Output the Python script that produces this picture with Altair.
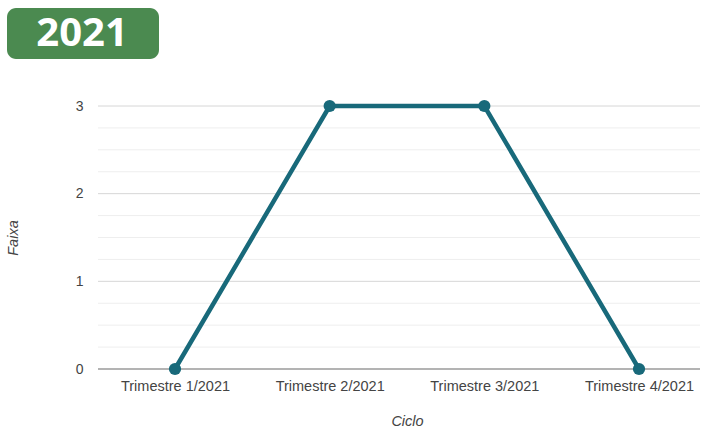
import altair as alt
import pandas as pd

# Quarterly band ("Faixa") per cycle
ciclos = ["Trimestre 1/2021", "Trimestre 2/2021", "Trimestre 3/2021", "Trimestre 4/2021"]
faixas = [0, 3, 3, 0]
ano = "2021"

# Gridline levels on the Faixa axis: majors at integers, minors every quarter
grade_maior = [1, 2, 3]
grade_menor = [0.25, 0.5, 0.75, 1.25, 1.5, 1.75, 2.25, 2.5, 2.75]

df = pd.DataFrame({"Ciclo": ciclos, "Faixa": faixas})

LINE = "#18697a"
LABEL = "#444444"
FONT = "Liberation Sans"

y_scale = alt.Scale(domain=[0, 3], nice=False, zero=True)
y_axis = alt.Axis(
    values=[0, 1, 2, 3], format="d",
    domain=False, ticks=False, grid=False,
    labelFontSize=14, labelColor=LABEL, labelPadding=15, labelFont=FONT,
    titleFontSize=14.5, titleFontStyle="italic", titleFontWeight="normal",
    titleColor=LABEL, titlePadding=55, titleFont=FONT,
)

x_enc = alt.X(
    "Ciclo:N",
    sort=ciclos,
    title="Ciclo",
    scale=alt.Scale(type="point", range=[77, 541], padding=0),
    axis=alt.Axis(
        labelAngle=0, domain=False, ticks=False, grid=False,
        labelFontSize=14.5, labelColor=LABEL, labelPadding=10, labelFont=FONT,
        titleFontSize=14.5, titleFontStyle="italic", titleFontWeight="normal",
        titleColor=LABEL, titlePadding=22, titleFont=FONT,
    ),
)

y_enc = alt.Y("Faixa:Q", title="Faixa", scale=y_scale, axis=y_axis)


def grid(levels, color, width):
    # horizontal rules across the full plot width
    return alt.Chart(pd.DataFrame({"Faixa": levels})).mark_rule(
        color=color, strokeWidth=width
    ).encode(y=alt.Y("Faixa:Q", title="Faixa", scale=y_scale, axis=y_axis))


minor = grid(grade_menor, "#eeeeee", 1)
major = grid(grade_maior, "#d6d6d6", 1)
baseline = grid([0], "#9a9a9a", 1.6)

base = alt.Chart(df).encode(x=x_enc, y=y_enc)
line = base.mark_line(color=LINE, strokeWidth=4.5)
points = base.mark_point(filled=True, color=LINE, size=150, opacity=1)

# Year badge in the top-left corner
badge = alt.Chart(pd.DataFrame({"ano": [ano]})).mark_rect(
    color="#4b8a50", cornerRadius=9
).encode(
    x=alt.value(-91), x2=alt.value(61), y=alt.value(-98), y2=alt.value(-47)
)
badge_text = alt.Chart(pd.DataFrame({"ano": [ano]})).mark_text(
    color="white", font="Open Sans", fontWeight="bold", fontSize=40,
    align="center", baseline="middle",
).encode(text="ano:N", x=alt.value(-16), y=alt.value(-72))

chart = (
    alt.layer(minor, major, baseline, line, points, badge, badge_text)
    .properties(
        width=602, height=263,
        autosize=alt.AutoSizeParams(type="none"),
        padding={"left": 98, "top": 106, "right": 8, "bottom": 68},
    )
    .configure(background="white")
    .configure_view(stroke="transparent", strokeWidth=0)
)

chart.save("out.html", embed_options={"renderer": "svg", "actions": False})
